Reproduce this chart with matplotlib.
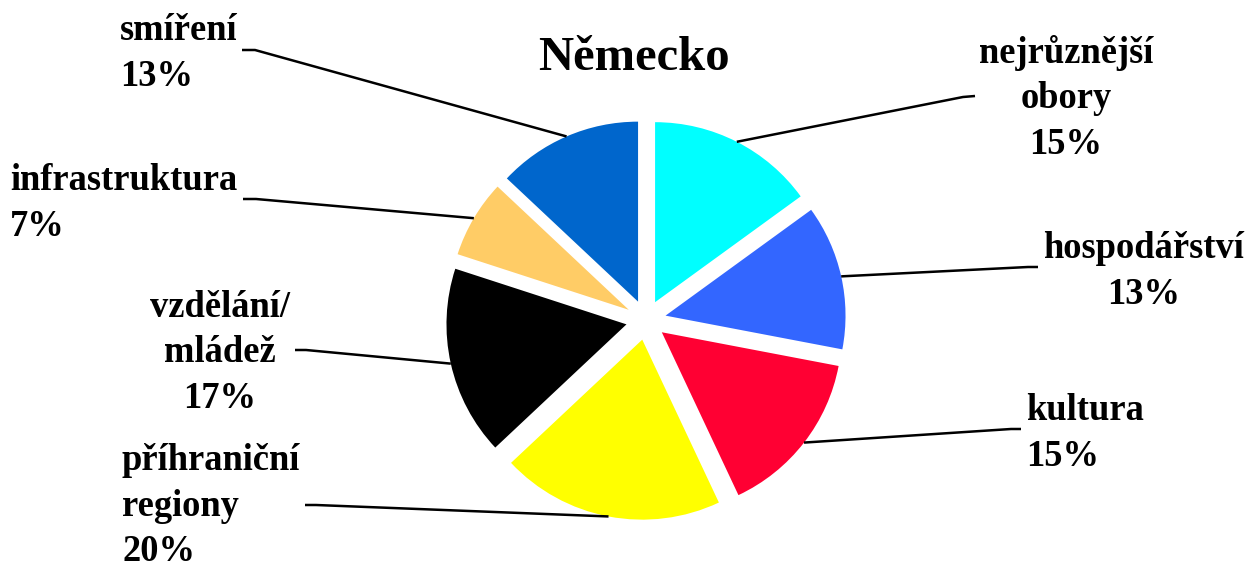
import numpy as np
import matplotlib.pyplot as plt

# Data
labels = ['nejrůznější\nobory', 'hospodářství', 'kultura', 'příhraniční\nregiony',
          'vzdělání/\nmládež', 'infrastruktura', 'smíření']
values = [15, 13, 15, 20, 17, 7, 13]
colors = ['#00FFFF', '#3366FF', '#FF0033', '#FFFF00', '#000000', '#FFCC66', '#0066CC']
title = 'Německo'

# Layout (pixels from top-left of the 1252x567 canvas)
W, H = 1252, 567
center_px = (646, 320)
radius_px = 180
explode_px = 20
label_x = [1066, 1144, 1026, 122, 220, 10, 120]
label_y = [63, 258, 420, 470, 317, 190, 40]     # baseline of first line
label_ha = ['center', 'center', 'left', 'left', 'center', 'left', 'left']
stub_start = [(975, 96), (1038, 267), (1021, 429), (305, 505), (295, 350), (243, 199), (242, 50)]
stub_end = [(963, 97), (1028, 267), (1011, 429), (316, 505), (306, 350), (256, 199), (255, 50)]
line_pitch = 45.5

font = 'Liberation Serif'

fig = plt.figure(figsize=(W / 100, H / 100), dpi=100)
ax = fig.add_axes([0, 0, 1, 1])

# explode is in data units here (pixels)
wedges, _ = ax.pie(values, colors=colors, startangle=90, counterclock=False,
                   explode=[explode_px] * len(values),
                   center=(center_px[0], H - center_px[1]), radius=radius_px,
                   wedgeprops=dict(linewidth=0))

ax.set_xlim(0, W)
ax.set_ylim(0, H)
ax.set_aspect('equal')
ax.axis('off')

for i, w in enumerate(wedges):
    # leader line: horizontal stub near the label, then to the middle of the arc
    mid = np.deg2rad((w.theta1 + w.theta2) / 2)
    cx, cy = w.center
    px, py = cx + w.r * np.cos(mid), cy + w.r * np.sin(mid)
    xs = [stub_start[i][0], stub_end[i][0], px]
    ys = [H - stub_start[i][1], H - stub_end[i][1], py]
    ax.plot(xs, ys, color='black', lw=1.8, solid_capstyle='butt')

    lines = labels[i].split('\n') + [f'{values[i]}%']
    for j, t in enumerate(lines):
        ax.text(label_x[i], H - (label_y[i] + j * line_pitch), t, ha=label_ha[i],
                va='baseline', fontsize=26.3, fontweight='bold', family=font)

ax.text(634, H - 70, title, ha='center', va='baseline', fontsize=35,
        fontweight='bold', family=font)

fig.savefig('out.png', dpi=100)
